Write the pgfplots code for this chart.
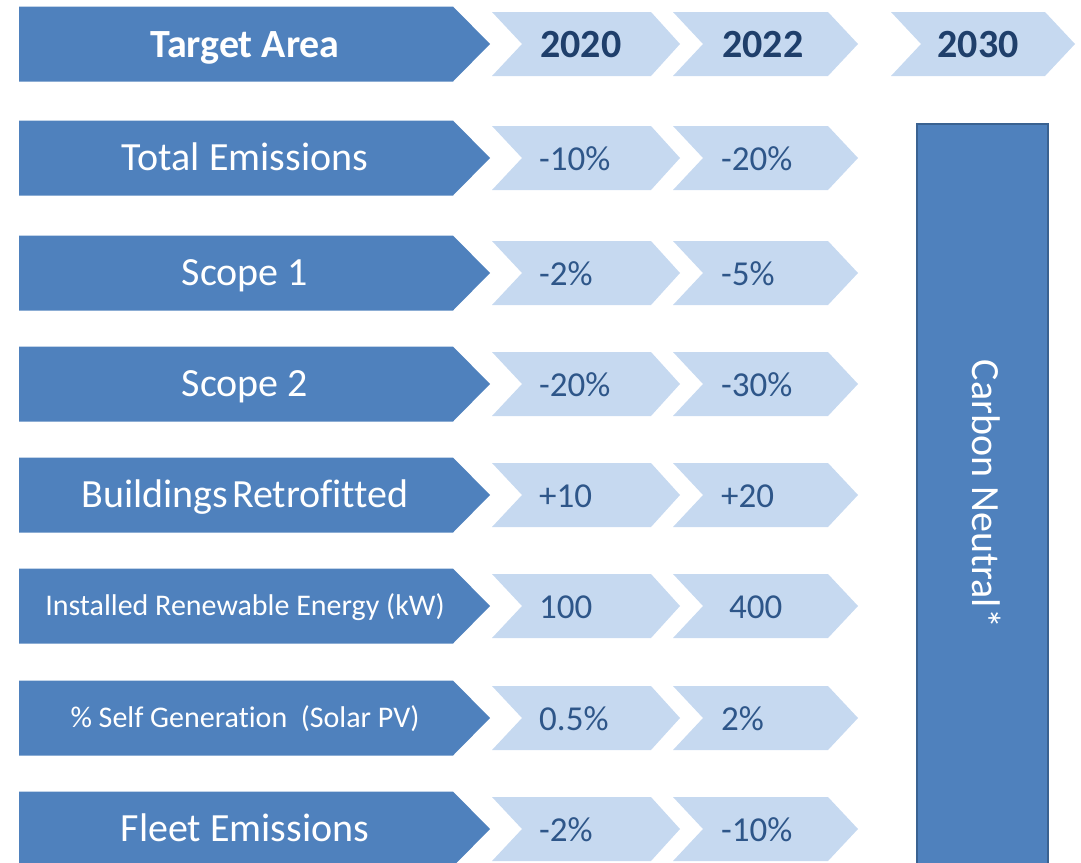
\documentclass[border=0pt]{standalone}
\usepackage{pgfplots}
\pgfplotsset{compat=1.18}
\usepackage{fontspec}
\setmainfont{Carlito}[Ligatures={NoCommon}]
\definecolor{darkblue}{HTML}{4F81BD}
\definecolor{lightblue}{HTML}{C6D9F0}
\definecolor{bordblue}{HTML}{3A6291}
\definecolor{yeartext}{HTML}{1F3F6B}
\definecolor{valtext}{HTML}{2E5689}
\newcommand{\fbig}{\fontsize{40}{48}\selectfont}
\newcommand{\fmid}{\fontsize{35}{42}\selectfont}
\newcommand{\fsml}{\fontsize{30}{36}\selectfont}
\begin{document}
\begin{tikzpicture}
\begin{axis}[
  width=1081pt, height=862pt, scale only axis,
  xmin=0, xmax=1081, ymin=0, ymax=862, y dir=reverse,
  hide axis, clip=true]
\path (rel axis cs:0,0) rectangle (rel axis cs:1,1);
% ---- dark chevrons (target areas)
\addplot[fill=darkblue, draw=none] coordinates {(19,6.5)(453,6.5)(490,44)(453,81.5)(19,81.5)} --cycle;
\addplot[fill=darkblue, draw=none] coordinates {(19,120.5)(453,120.5)(490,158)(453,195.5)(19,195.5)} --cycle;
\addplot[fill=darkblue, draw=none] coordinates {(19,235.5)(453,235.5)(490,273)(453,310.5)(19,310.5)} --cycle;
\addplot[fill=darkblue, draw=none] coordinates {(19,346.5)(453,346.5)(490,384)(453,421.5)(19,421.5)} --cycle;
\addplot[fill=darkblue, draw=none] coordinates {(19,457.5)(453,457.5)(490,495)(453,532.5)(19,532.5)} --cycle;
\addplot[fill=darkblue, draw=none] coordinates {(19,568.5)(453,568.5)(490,606)(453,643.5)(19,643.5)} --cycle;
\addplot[fill=darkblue, draw=none] coordinates {(19,680.5)(453,680.5)(490,718)(453,755.5)(19,755.5)} --cycle;
\addplot[fill=darkblue, draw=none] coordinates {(19,791.5)(453,791.5)(490,829)(453,866.5)(19,866.5)} --cycle;
% ---- light chevrons 2020
\addplot[fill=lightblue, draw=none] coordinates {(492,12)(651,12)(680,44)(651,76)(492,76)(522,44)} --cycle;
\addplot[fill=lightblue, draw=none] coordinates {(492,126)(651,126)(680,158)(651,190)(492,190)(522,158)} --cycle;
\addplot[fill=lightblue, draw=none] coordinates {(492,241)(651,241)(680,273)(651,305)(492,305)(522,273)} --cycle;
\addplot[fill=lightblue, draw=none] coordinates {(492,352)(651,352)(680,384)(651,416)(492,416)(522,384)} --cycle;
\addplot[fill=lightblue, draw=none] coordinates {(492,463)(651,463)(680,495)(651,527)(492,527)(522,495)} --cycle;
\addplot[fill=lightblue, draw=none] coordinates {(492,574)(651,574)(680,606)(651,638)(492,638)(522,606)} --cycle;
\addplot[fill=lightblue, draw=none] coordinates {(492,686)(651,686)(680,718)(651,750)(492,750)(522,718)} --cycle;
\addplot[fill=lightblue, draw=none] coordinates {(492,797)(651,797)(680,829)(651,861)(492,861)(522,829)} --cycle;
% ---- light chevrons 2022
\addplot[fill=lightblue, draw=none] coordinates {(673,12)(828,12)(858,44)(828,76)(673,76)(703,44)} --cycle;
\addplot[fill=lightblue, draw=none] coordinates {(673,126)(828,126)(858,158)(828,190)(673,190)(703,158)} --cycle;
\addplot[fill=lightblue, draw=none] coordinates {(673,241)(828,241)(858,273)(828,305)(673,305)(703,273)} --cycle;
\addplot[fill=lightblue, draw=none] coordinates {(673,352)(828,352)(858,384)(828,416)(673,416)(703,384)} --cycle;
\addplot[fill=lightblue, draw=none] coordinates {(673,463)(828,463)(858,495)(828,527)(673,527)(703,495)} --cycle;
\addplot[fill=lightblue, draw=none] coordinates {(673,574)(828,574)(858,606)(828,638)(673,638)(703,606)} --cycle;
\addplot[fill=lightblue, draw=none] coordinates {(673,686)(828,686)(858,718)(828,750)(673,750)(703,718)} --cycle;
\addplot[fill=lightblue, draw=none] coordinates {(673,797)(828,797)(858,829)(828,861)(673,861)(703,829)} --cycle;
% ---- 2030 header chevron
\addplot[fill=lightblue, draw=none] coordinates {(891,12)(1045,12)(1075,44)(1045,76)(891,76)(921,44)} --cycle;
% ---- Carbon neutral bar
\addplot[fill=darkblue, draw=bordblue, line width=2pt] coordinates {(917,124)(1048,124)(1048,870)(917,870)} --cycle;
% ---- left labels
\node[anchor=base, text=white, font=\fbig\bfseries] at (axis cs:245,57) {Target Area};
\node[anchor=base, text=white, font=\fbig] at (axis cs:245,170.5) {Total Emissions};
\node[anchor=base, text=white, font=\fbig] at (axis cs:245,285.5) {Scope 1};
\node[anchor=base, text=white, font=\fbig] at (axis cs:245,396.5) {Scope 2};
\node[anchor=base, text=white, font=\fbig] at (axis cs:245,507.5) {Buildings\hspace{4pt}Retrofitted};
\node[anchor=base, text=white, font=\fsml] at (axis cs:245,615.5) {Installed Renewable Energy (kW)};
\node[anchor=base, text=white, font=\fsml] at (axis cs:245,727.5) {\% Self Generation\ \ (Solar PV)};
\node[anchor=base, text=white, font=\fbig] at (axis cs:245,841.5) {Fleet Emissions};
% ---- years
\node[anchor=base west, inner sep=0pt, text=yeartext, font=\fbig\bfseries] at (axis cs:540,57) {2020};
\node[anchor=base west, inner sep=0pt, text=yeartext, font=\fbig\bfseries] at (axis cs:722,57) {2022};
\node[anchor=base, inner sep=0pt, text=yeartext, font=\fbig\bfseries] at (axis cs:978,57) {2030};
% ---- 2020 values
\node[anchor=base west, inner sep=0pt, text=valtext, font=\fmid] at (axis cs:539,170) {-10\%};
\node[anchor=base west, inner sep=0pt, text=valtext, font=\fmid] at (axis cs:539,285) {-2\%};
\node[anchor=base west, inner sep=0pt, text=valtext, font=\fmid] at (axis cs:539,396) {-20\%};
\node[anchor=base west, inner sep=0pt, text=valtext, font=\fmid] at (axis cs:539,507) {+10};
\node[anchor=base west, inner sep=0pt, text=valtext, font=\fmid] at (axis cs:539,618) {100};
\node[anchor=base west, inner sep=0pt, text=valtext, font=\fmid] at (axis cs:539,730) {0.5\%};
\node[anchor=base west, inner sep=0pt, text=valtext, font=\fmid] at (axis cs:539,841) {-2\%};
% ---- 2022 values
\node[anchor=base west, inner sep=0pt, text=valtext, font=\fmid] at (axis cs:721,170) {-20\%};
\node[anchor=base west, inner sep=0pt, text=valtext, font=\fmid] at (axis cs:721,285) {-5\%};
\node[anchor=base west, inner sep=0pt, text=valtext, font=\fmid] at (axis cs:721,396) {-30\%};
\node[anchor=base west, inner sep=0pt, text=valtext, font=\fmid] at (axis cs:721,507) {+20};
\node[anchor=base west, inner sep=0pt, text=valtext, font=\fmid] at (axis cs:729,618) {400};
\node[anchor=base west, inner sep=0pt, text=valtext, font=\fmid] at (axis cs:721,730) {2\%};
\node[anchor=base west, inner sep=0pt, text=valtext, font=\fmid] at (axis cs:721,841) {-10\%};
% ---- 2030 text
\node[anchor=mid, rotate=-90, text=white, font=\fbig] at (axis cs:975,494) {Carbon Neutral*};
\end{axis}
\end{tikzpicture}
\end{document}
